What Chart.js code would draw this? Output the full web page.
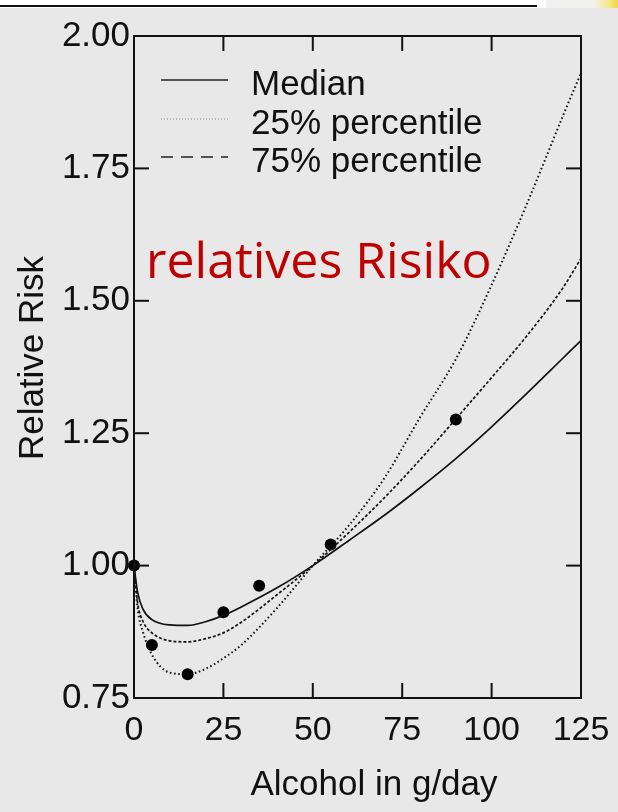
<!DOCTYPE html>
<html><head><meta charset="utf-8">
<script src="https://cdn.jsdelivr.net/npm/chart.js@4.4.1/dist/chart.umd.min.js"></script>
<style>
html,body{margin:0;padding:0;background:#e8e8e8;width:618px;height:812px;overflow:hidden}
#wrap{position:relative;width:618px;height:812px}
canvas{position:absolute;left:0;top:0}
.strip{position:absolute;left:0;top:0;width:546px;height:8px;background:#fff}
.rule{position:absolute;left:0;top:5px;width:537px;height:2px;background:#111}
.corner{position:absolute;left:546px;top:0;width:72px;height:8px;background:linear-gradient(to right,#efefef 0%,#f1f1ee 65%,#f6ea95 85%,#f2d640 100%)}
.note{position:absolute;left:146px;top:234px;font-family:"Open Sans";font-size:50px;color:#c00000;white-space:nowrap;line-height:1}
</style></head>
<body><div id="wrap"><canvas id="c" width="618" height="812"></canvas>
<div class="strip"></div><div class="rule"></div><div class="corner"></div>
<div class="note" id="note"></div></div>
<script>
// ---- data ----
const curveX  = [0, 1, 2.5, 5, 10, 15, 20, 25, 30, 40, 50, 60, 70, 80, 90, 100, 110, 120, 125];
const medianY = [1.00, 0.950, 0.918, 0.898, 0.888, 0.887, 0.894, 0.906, 0.922, 0.958, 1.00, 1.047, 1.095, 1.147, 1.202, 1.262, 1.326, 1.392, 1.425];
const p25Y    = [1.00, 0.920, 0.875, 0.832, 0.798, 0.795, 0.805, 0.825, 0.850, 0.920, 1.00, 1.075, 1.165, 1.280, 1.390, 1.530, 1.685, 1.850, 1.930];
const p75Y    = [1.00, 0.930, 0.895, 0.873, 0.858, 0.856, 0.862, 0.873, 0.893, 0.945, 1.00, 1.062, 1.128, 1.200, 1.277, 1.355, 1.435, 1.525, 1.580];
const obsX    = [0, 5, 15, 25, 35, 55, 90];
const obsY    = [1.00, 0.85, 0.795, 0.912, 0.962, 1.04, 1.276];
const xTicks  = [0, 25, 50, 75, 100, 125];
const yTicks  = [0.75, 1.00, 1.25, 1.50, 1.75, 2.00];
const seriesNames = ['Median', '25% percentile', '75% percentile'];
const xTitle = 'Alcohol in g/day';
const yTitle = 'Relative Risk';
const noteText = 'relatives Risiko';

document.getElementById('note').textContent = noteText;

const FONT = '"Liberation Sans", Arial, Helvetica, sans-serif';
const INK = '#111';
const pts = (xs, ys) => xs.map((x, i) => ({x, y: ys[i]}));

const styles = [
  {dash: [], width: 1.7, color: '#111', legendDash: [], legendColor: '#222', legendWidth: 1.6},
  {dash: [1.6, 2.6], width: 2, color: '#151515', legendDash: [1, 2], legendColor: '#888', legendWidth: 1.2},
  {dash: [3, 2], width: 1.7, color: '#151515', legendDash: [12, 8], legendColor: '#222', legendWidth: 1.6}
];

const decor = {
  id: 'decor',
  afterDatasetsDraw(chart) {
    const {ctx, chartArea: a, scales: {x, y}} = chart;
    ctx.save();
    ctx.strokeStyle = INK;
    ctx.lineWidth = 2;
    ctx.setLineDash([]);
    ctx.strokeRect(a.left, a.top, a.right - a.left, a.bottom - a.top);
    const L = 15;
    const line = (x1, y1, x2, y2) => { ctx.beginPath(); ctx.moveTo(x1, y1); ctx.lineTo(x2, y2); ctx.stroke(); };
    x.ticks.forEach(t => {
      if (t.value <= x.min || t.value >= x.max) return;
      const px = x.getPixelForValue(t.value);
      line(px, a.bottom, px, a.bottom - L);
      line(px, a.top, px, a.top + L);
    });
    y.ticks.forEach(t => {
      if (t.value <= y.min || t.value >= y.max) return;
      const py = y.getPixelForValue(t.value);
      line(a.left, py, a.left + L, py);
      line(a.right, py, a.right - L, py);
    });
    // legend
    const rows = [44, 83, 121];
    ctx.font = '35px ' + FONT;
    ctx.fillStyle = INK;
    ctx.textBaseline = 'alphabetic';
    ctx.textAlign = 'left';
    seriesNames.forEach((n, i) => {
      const s = styles[i];
      const ly = a.top + rows[i];
      ctx.strokeStyle = s.legendColor;
      ctx.lineWidth = s.legendWidth;
      ctx.setLineDash(s.legendDash);
      line(a.left + 27, ly, a.left + 94, ly);
      ctx.setLineDash([]);
      ctx.fillText(n, a.left + 117, ly + 15);
    });
    // axis titles
    ctx.textAlign = 'center';
    ctx.fillText(xTitle, 374, 795);
    ctx.translate(43, 358);
    ctx.rotate(-Math.PI / 2);
    ctx.fillText(yTitle, 0, 0);
    ctx.restore();
  }
};

const lineDs = (label, ys, s) => ({
  type: 'line', label, data: pts(curveX, ys),
  borderColor: s.color, borderWidth: s.width, borderDash: s.dash,
  pointRadius: 0, cubicInterpolationMode: 'monotone', fill: false, clip: false
});

new Chart(document.getElementById('c'), {
  type: 'scatter',
  data: {
    datasets: [
      lineDs(seriesNames[0], medianY, styles[0]),
      lineDs(seriesNames[1], p25Y, styles[1]),
      lineDs(seriesNames[2], p75Y, styles[2]),
      {type: 'scatter', label: 'observed', data: pts(obsX, obsY), pointRadius: 6,
       pointBackgroundColor: '#000', pointBorderColor: '#000', pointBorderWidth: 0, clip: false}
    ]
  },
  options: {
    responsive: false, animation: false, devicePixelRatio: 1,
    layout: {padding: {left: 0, right: 37, top: 36, bottom: 0}},
    plugins: {legend: {display: false}, tooltip: {enabled: false}},
    scales: {
      x: {
        type: 'linear', min: 0, max: 125,
        afterBuildTicks: s => { s.ticks = xTicks.map(v => ({value: v})); },
        afterFit: s => { s.height = 114; },
        grid: {display: false, drawTicks: true, tickLength: 7}, border: {display: false},
        ticks: {color: INK, font: {family: FONT, size: 34}, padding: 5, maxRotation: 0,
                callback: v => String(v)}
      },
      y: {
        type: 'linear', min: 0.75, max: 2.0,
        afterBuildTicks: s => { s.ticks = yTicks.map(v => ({value: v})); },
        afterFit: s => { s.width = 134; },
        grid: {display: false, drawTicks: false}, border: {display: false},
        ticks: {color: INK, font: {family: FONT, size: 35}, padding: 4,
                callback: v => Number(v).toFixed(2)}
      }
    }
  },
  plugins: [decor]
});
</script>
</body></html>
